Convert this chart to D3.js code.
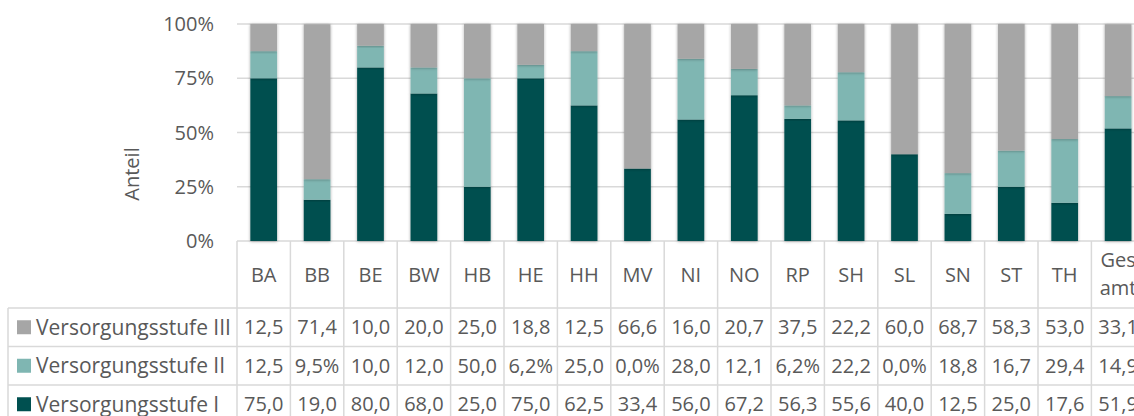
<!DOCTYPE html>
<html>
<head>
<meta charset="utf-8">
<script src="https://cdn.jsdelivr.net/npm/d3@7"></script>
<style>
    body { margin: 0; background: #fff; }
    text { font-family: "Open Sans", sans-serif; fill: #595959; }
</style>
</head>
<body>
<div id="chart"></div>
<script>
    // data
    const categories = ['BA','BB','BE','BW','HB','HE','HH','MV','NI','NO','RP','SH','SL','SN','ST','TH','Gesamt'];
    const stufeI   = [75.0,19.0,80.0,68.0,25.0,75.0,62.5,33.4,56.0,67.2,56.3,55.6,40.0,12.5,25.0,17.6,51.9];
    const stufeII  = [12.5,9.5,10.0,12.0,50.0,6.2,25.0,0.0,28.0,12.1,6.2,22.2,0.0,18.8,16.7,29.4,14.9];
    const stufeIII = [12.5,71.4,10.0,20.0,25.0,18.8,12.5,66.6,16.0,20.7,37.5,22.2,60.0,68.7,58.3,53.0,33.1];
    const yTicks = [0, 25, 50, 75, 100];

    const series = [
        {key: 'I',   name: 'Versorgungsstufe I',   values: stufeI,   color: '#005050'},
        {key: 'II',  name: 'Versorgungsstufe II',  values: stufeII,  color: '#7fb6b2'},
        {key: 'III', name: 'Versorgungsstufe III', values: stufeIII, color: '#a6a6a6'}
    ];

    const W = 1134, H = 416;
    const plotLeft = 237, colW = 53.4;
    const plotRight = plotLeft + colW * categories.length;
    const plotTop = 24, plotBase = 241;
    const headerBottom = 308, rowH = 38.5;
    const fs = 20;

    const svg = d3.select('#chart').append('svg')
        .attr('width', W)
        .attr('height', H);

    const defs = svg.append('defs');
    defs.append('filter').attr('id', 'shadow')
        .attr('x', '-30%').attr('y', '-10%').attr('width', '160%').attr('height', '120%')
        .append('feDropShadow')
        .attr('dx', 0).attr('dy', 0.5)
        .attr('stdDeviation', 1.6)
        .attr('flood-color', '#000')
        .attr('flood-opacity', 0.35);

    const x = d3.scaleBand().domain(categories).range([plotLeft, plotRight])
        .paddingInner(0.5).paddingOuter(0.25);
    const col = d3.scaleBand().domain(categories).range([plotLeft, plotRight]);
    const y = d3.scaleLinear().domain([0, 100]).range([plotBase, plotTop]);

    // gridlines
    svg.append('g')
        .selectAll('line')
        .data(yTicks)
        .enter()
        .append('line')
        .attr('x1', plotLeft).attr('x2', plotRight)
        .attr('y1', d => y(d)).attr('y2', d => y(d))
        .attr('stroke', '#d9d9d9')
        .attr('stroke-width', 1.5);

    // y tick labels
    svg.append('g')
        .selectAll('text')
        .data(yTicks)
        .enter()
        .append('text')
        .attr('x', 214)
        .attr('y', d => y(d) + 7)
        .attr('text-anchor', 'end')
        .style('font-size', fs + 'px')
        .text(d => d + '%');

    svg.append('text')
        .attr('transform', 'translate(139,174) rotate(-90)')
        .attr('text-anchor', 'middle')
        .style('font-size', fs + 'px')
        .text('Anteil');

    // stacked bars
    const rows = categories.map((c, i) => {
        const r = {cat: c};
        series.forEach(s => { r[s.key] = s.values[i]; });
        return r;
    });
    const stack = d3.stack().keys(series.map(s => s.key))(rows);

    svg.append('g')
        .selectAll('g')
        .data(stack)
        .enter()
        .append('g')
        .attr('fill', (d, i) => series[i].color)
        .selectAll('rect')
        .data(d => d)
        .enter()
        .append('rect')
        .attr('x', d => x(d.data.cat))
        .attr('width', x.bandwidth())
        .attr('y', d => y(d[1]))
        .attr('height', d => Math.max(0, y(d[0]) - y(d[1])))
        .attr('filter', 'url(#shadow)');

    // data table
    const table = svg.append('g');
    const lineColor = '#d9d9d9';
    const tableRows = series.slice().reverse();
    const tableBottom = headerBottom + rowH * tableRows.length;

    table.selectAll('.vline')
        .data(d3.range(categories.length + 1))
        .enter()
        .append('line')
        .attr('x1', i => plotLeft + i * colW).attr('x2', i => plotLeft + i * colW)
        .attr('y1', plotBase).attr('y2', tableBottom)
        .attr('stroke', lineColor).attr('stroke-width', 1.5);

    table.selectAll('.hline')
        .data(d3.range(tableRows.length + 1))
        .enter()
        .append('line')
        .attr('x1', 8).attr('x2', plotRight)
        .attr('y1', i => headerBottom + i * rowH).attr('y2', i => headerBottom + i * rowH)
        .attr('stroke', lineColor).attr('stroke-width', 1.5);

    table.append('line')
        .attr('x1', 8).attr('x2', 8)
        .attr('y1', headerBottom).attr('y2', tableBottom)
        .attr('stroke', lineColor).attr('stroke-width', 1.5);

    // header labels, wrapped when they do not fit
    const header = table.append('g').selectAll('text')
        .data(categories)
        .enter()
        .append('text')
        .attr('text-anchor', 'middle')
        .style('font-size', fs + 'px')
        .text(d => d);
    header.each(function(d) {
        const t = d3.select(this);
        const cx = col(d) + colW / 2;
        if (this.getComputedTextLength() > colW - 6) {
            const half = Math.ceil(d.length / 2);
            t.text(null);
            [d.slice(0, half), d.slice(half)].forEach((part, k) => {
                t.append('tspan').attr('x', cx).attr('y', 267 + k * 28).text(part);
            });
        } else {
            t.attr('x', cx).attr('y', (plotBase + headerBottom) / 2 + 7);
        }
    });

    const de = d3.formatLocale({decimal: ',', thousands: '.', grouping: [3], currency: ['', ' €']});
    const f1 = de.format('.1f');

    tableRows.forEach((s, r) => {
        const cy = headerBottom + r * rowH + rowH / 2;
        table.append('rect')
            .attr('x', 17).attr('y', cy - 7)
            .attr('width', 14).attr('height', 14)
            .attr('fill', s.color);
        table.append('text')
            .attr('x', 36).attr('y', cy + 7.5)
            .style('font-size', '21px')
            .text(s.name);

        table.append('g').selectAll('text')
            .data(s.values)
            .enter()
            .append('text')
            .attr('x', (d, i) => col(categories[i]) + colW / 2)
            .attr('y', cy + 7)
            .attr('text-anchor', 'middle')
            .style('font-size', fs + 'px')
            .text(d => f1(d) + '%')
            .each(function(d) {
                // Excel drops what does not fit in the cell
                if (this.getComputedTextLength() > colW - 4) d3.select(this).text(f1(d));
            });
    });
</script>
</body>
</html>
